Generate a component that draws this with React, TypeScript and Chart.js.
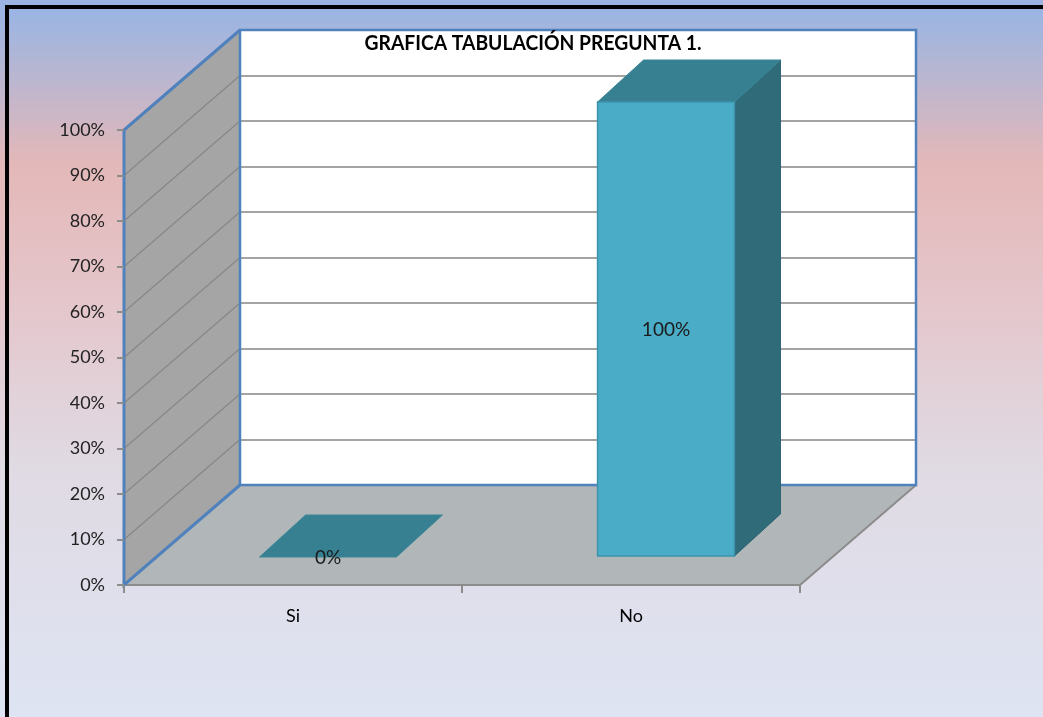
import React, { useEffect, useRef } from 'react';
import { Chart, registerables } from 'chart.js';

Chart.register(...registerables);

// ---------- data ----------
const chartTitle = 'GRAFICA TABULACIÓN PREGUNTA 1.';
const categories = ['Si', 'No'];
const values = [0, 100];
const valueLabels = ['0%', '100%'];
const yTickValues = [0, 10, 20, 30, 40, 50, 60, 70, 80, 90, 100];

// ---------- styling / geometry ----------
const W = 1043;
const H = 717;
const DEPTH = { dx: 116, dy: -100 }; // wall depth offset
const BAR_FRONT = { dx: 35, dy: -28 }; // bar front face offset
const BAR_BACK = { dx: 81, dy: -70 }; // bar back face offset
const BLUE = '#4f81bd';
const FONT = 'Lato, "Open Sans", sans-serif';
const TITLE_POS = { x: 533, y: 43, width: 337 };

const threeD = {
  id: 'threeD',
  beforeDraw(chart: any) {
    const ctx = chart.ctx as CanvasRenderingContext2D;
    const { left, right } = chart.chartArea;
    const y = chart.scales.y;
    ctx.save();
    // background gradient
    const g = ctx.createLinearGradient(0, 0, 0, H);
    g.addColorStop(0, '#9ab3e2');
    g.addColorStop(0.02, '#9cb5e2');
    g.addColorStop(0.23, '#e4b8b8');
    g.addColorStop(0.42, '#e4c6cb');
    g.addColorStop(0.65, '#e0dae3');
    g.addColorStop(1, '#dee4f3');
    ctx.fillStyle = g;
    ctx.fillRect(0, 0, W, H);
    // black frame (top and left)
    ctx.fillStyle = '#000';
    ctx.fillRect(5, 5, W - 5, 4);
    ctx.fillRect(5, 5, 4, H - 5);

    const y0 = y.getPixelForValue(0);
    const yMax = y.getPixelForValue(yTickValues[yTickValues.length - 1]);
    const { dx, dy } = DEPTH;

    // back wall
    ctx.fillStyle = '#ffffff';
    ctx.fillRect(left + dx, yMax + dy, right - left, y0 - yMax);
    ctx.strokeStyle = '#a3a3a3';
    ctx.lineWidth = 2;
    yTickValues.slice(1, -1).forEach((v) => {
      const py = Math.round(y.getPixelForValue(v) + dy);
      ctx.beginPath();
      ctx.moveTo(left + dx, py);
      ctx.lineTo(right + dx, py);
      ctx.stroke();
    });

    // floor
    ctx.fillStyle = '#b1b6b9';
    ctx.beginPath();
    ctx.moveTo(left, y0);
    ctx.lineTo(right, y0);
    ctx.lineTo(right + dx, y0 + dy);
    ctx.lineTo(left + dx, y0 + dy);
    ctx.closePath();
    ctx.fill();

    // left wall
    ctx.fillStyle = '#a5a5a5';
    ctx.beginPath();
    ctx.moveTo(left, yMax);
    ctx.lineTo(left + dx, yMax + dy);
    ctx.lineTo(left + dx, y0 + dy);
    ctx.lineTo(left, y0);
    ctx.closePath();
    ctx.fill();
    ctx.strokeStyle = '#878787';
    ctx.lineWidth = 1.2;
    yTickValues.slice(1, -1).forEach((v) => {
      const py = y.getPixelForValue(v);
      ctx.beginPath();
      ctx.moveTo(left, py);
      ctx.lineTo(left + dx, py + dy);
      ctx.stroke();
    });

    // floor edges
    ctx.strokeStyle = '#8c8c8c';
    ctx.lineWidth = 2;
    ctx.beginPath();
    ctx.moveTo(left, y0);
    ctx.lineTo(right, y0);
    ctx.lineTo(right + dx, y0 + dy);
    ctx.stroke();

    // blue frame
    ctx.strokeStyle = BLUE;
    ctx.lineWidth = 2.5;
    ctx.strokeRect(left + dx, yMax + dy, right - left, y0 - yMax);
    ctx.lineWidth = 3;
    ctx.beginPath();
    ctx.moveTo(left + dx, yMax + dy);
    ctx.lineTo(left, yMax);
    ctx.lineTo(left, y0);
    ctx.lineTo(left + dx, y0 + dy);
    ctx.stroke();
    ctx.restore();
  },
  afterDatasetsDraw(chart: any) {
    const ctx = chart.ctx as CanvasRenderingContext2D;
    const meta = chart.getDatasetMeta(0);
    const ddx = BAR_BACK.dx - BAR_FRONT.dx;
    const ddy = BAR_BACK.dy - BAR_FRONT.dy;
    ctx.save();
    meta.data.forEach((el: any, i: number) => {
      const { x, y: yTop, base, width } = el.getProps(['x', 'y', 'base', 'width'], true);
      const fx = x - width / 2 + BAR_FRONT.dx;
      const ft = yTop + BAR_FRONT.dy;
      const fb = base + BAR_FRONT.dy;
      const h = fb - ft;
      if (h > 0.5) {
        // side
        ctx.fillStyle = '#2f6b79';
        ctx.strokeStyle = '#2a6270';
        ctx.lineWidth = 1;
        ctx.beginPath();
        ctx.moveTo(fx + width, ft);
        ctx.lineTo(fx + width + ddx, ft + ddy);
        ctx.lineTo(fx + width + ddx, fb + ddy);
        ctx.lineTo(fx + width, fb);
        ctx.closePath();
        ctx.fill();
        ctx.stroke();
      }
      // top
      ctx.fillStyle = '#378091';
      ctx.strokeStyle = '#3a8797';
      ctx.lineWidth = 1;
      ctx.beginPath();
      ctx.moveTo(fx, ft);
      ctx.lineTo(fx + width, ft);
      ctx.lineTo(fx + width + ddx, ft + ddy);
      ctx.lineTo(fx + ddx, ft + ddy);
      ctx.closePath();
      ctx.fill();
      ctx.stroke();
      if (h > 0.5) {
        ctx.fillStyle = '#4aacc6';
        ctx.fillRect(fx, ft, width, h);
        ctx.strokeStyle = '#3d93aa';
        ctx.lineWidth = 1.5;
        ctx.strokeRect(fx, ft, width, h);
      }
      // label
      ctx.fillStyle = '#1a1a1a';
      ctx.font = `19px ${FONT}`;
      ctx.textAlign = 'center';
      ctx.textBaseline = 'middle';
      ctx.fillText(valueLabels[i], fx + width / 2, (ft + fb) / 2 + 1);
    });
    ctx.restore();
  },
  afterDraw(chart: any) {
    const ctx = chart.ctx as CanvasRenderingContext2D;
    ctx.save();
    ctx.font = `bold 21px ${FONT}`;
    ctx.fillStyle = '#000';
    ctx.textAlign = 'center';
    ctx.textBaseline = 'middle';
    const w = ctx.measureText(chartTitle).width;
    const sx = Math.min(1, TITLE_POS.width / w);
    ctx.translate(TITLE_POS.x, TITLE_POS.y);
    ctx.scale(sx, 1);
    ctx.fillText(chartTitle, 0, 0);
    ctx.restore();
  },
};

export default function App() {
  const ref = useRef<HTMLCanvasElement>(null);
  useEffect(() => {
    if (!ref.current) return;
    const chart = new Chart(ref.current, {
      type: 'bar',
      data: {
        labels: categories,
        datasets: [
          {
            data: values,
            backgroundColor: 'rgba(0,0,0,0)',
            borderWidth: 0,
            categoryPercentage: 1,
            barPercentage: 0.405,
          },
        ],
      },
      options: {
        animation: false,
        responsive: false,
        devicePixelRatio: 1,
        layout: { padding: { left: 0, right: 243, top: 130, bottom: 0 } },
        plugins: {
          legend: { display: false },
          tooltip: { enabled: false },
          title: { display: false },
        },
        scales: {
          x: {
            grid: { drawOnChartArea: false, drawTicks: true, tickLength: 8, color: '#8c8c8c', lineWidth: 2, offset: true },
            border: { display: false },
            ticks: { color: '#000', font: { family: FONT, size: 18 }, padding: 12 },
            afterFit: (s: any) => {
              s.height = 132;
            },
          },
          y: {
            min: 0,
            max: 100,
            afterBuildTicks: (s: any) => {
              s.ticks = yTickValues.map((v) => ({ value: v }));
            },
            grid: { drawOnChartArea: false, drawTicks: true, tickLength: 7, color: '#8c8c8c', lineWidth: 2 },
            border: { display: false },
            ticks: {
              color: '#222',
              font: { family: FONT, size: 18 },
              padding: 12,
              callback: (v: any) => `${v}%`,
            },
            afterFit: (s: any) => {
              s.width = 124;
            },
          },
        },
      },
      plugins: [threeD],
    });
    return () => chart.destroy();
  }, []);
  return (
    <div style={{ position: 'absolute', left: 0, top: 0, width: W, height: H }}>
      <canvas ref={ref} width={W} height={H} style={{ display: 'block', width: W, height: H }} />
    </div>
  );
}
